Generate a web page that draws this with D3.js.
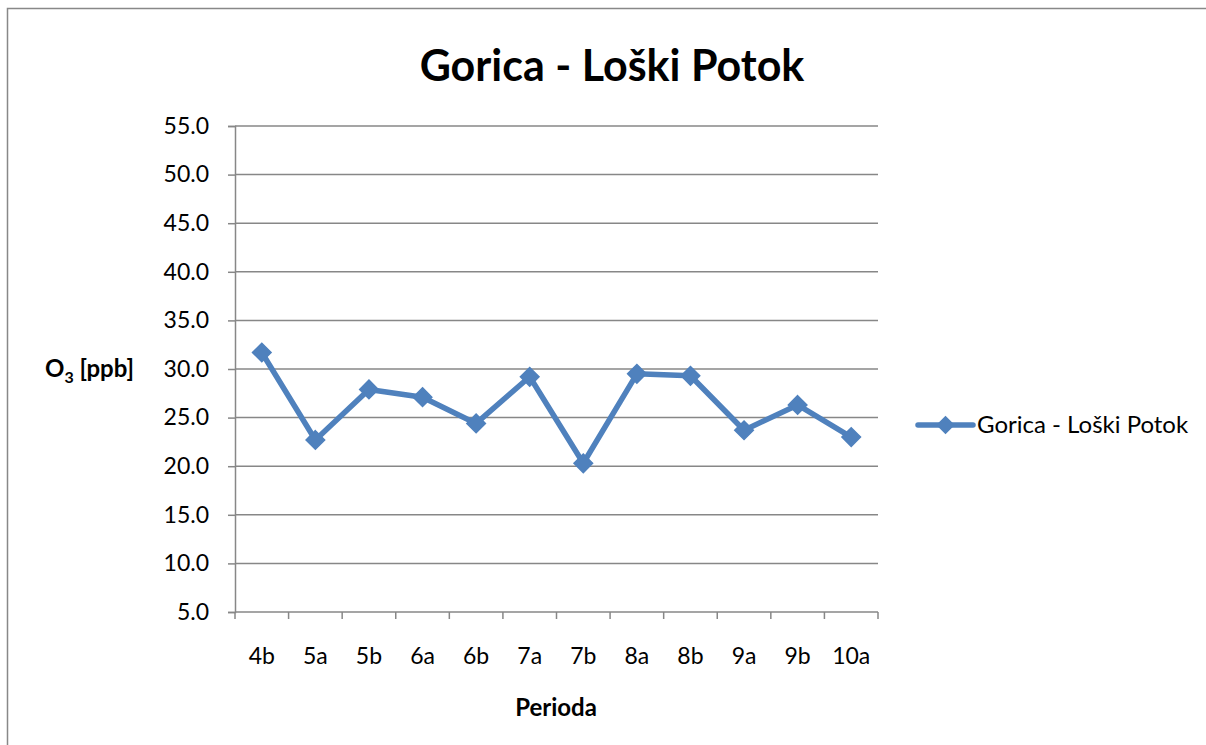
<!DOCTYPE html>
<html>
<head>
<meta charset="utf-8">
<script src="https://cdn.jsdelivr.net/npm/d3@7"></script>
<style>
  html, body { margin: 0; padding: 0; background: #fff; }
  svg { display: block; font-family: Lato, "Open Sans", sans-serif; }
</style>
</head>
<body>
<svg id="chart" width="1206" height="745"></svg>
<script>
// Ozone measurements per period
const categories = ["4b", "5a", "5b", "6a", "6b", "7a", "7b", "8a", "8b", "9a", "9b", "10a"];
const values = [31.7, 22.7, 27.9, 27.1, 24.4, 29.2, 20.3, 29.5, 29.3, 23.7, 26.3, 23.0];
const yTicks = [5, 10, 15, 20, 25, 30, 35, 40, 45, 50, 55];
const seriesName = "Gorica - Loški Potok";

const svg = d3.select("#chart");
const lineColor = "#4F81BD";
const gridColor = "#878787";

const plot = { left: 235, right: 878, top: 126, bottom: 612 };

// outer chart frame
svg.append("rect")
  .attr("x", 7.5).attr("y", 8.5)
  .attr("width", 1210).attr("height", 750)
  .attr("fill", "none").attr("stroke", "#888").attr("stroke-width", 1.5);

const x = d3.scaleBand().domain(categories).range([plot.left, plot.right]).padding(0);
const y = d3.scaleLinear().domain([5, 55]).range([plot.bottom, plot.top]);

// horizontal gridlines
svg.append("g")
  .selectAll("line")
  .data(yTicks.filter(t => t > 5))
  .join("line")
  .attr("x1", plot.left).attr("x2", plot.right)
  .attr("y1", d => y(d)).attr("y2", d => y(d))
  .attr("stroke", gridColor).attr("stroke-width", 1.5);

// y axis
const yAxis = svg.append("g")
  .attr("transform", `translate(${plot.left},0)`)
  .call(d3.axisLeft(y).tickValues(yTicks).tickFormat(d3.format(".1f")).tickSize(7).tickPadding(19));
yAxis.select(".domain").attr("stroke", gridColor).attr("stroke-width", 1.5);
yAxis.selectAll(".tick line").attr("stroke", gridColor).attr("stroke-width", 1.5);
yAxis.selectAll(".tick text").attr("fill", "#000").style("font-size", "23px").style("font-family", "Lato, sans-serif");

// x axis with ticks on category boundaries
const xAxisG = svg.append("g").attr("transform", `translate(0,${plot.bottom})`);
xAxisG.append("line")
  .attr("x1", plot.left).attr("x2", plot.right)
  .attr("y1", 0).attr("y2", 0)
  .attr("stroke", gridColor).attr("stroke-width", 1.5);
const boundaries = categories.map(c => x(c)).concat([plot.right]);
xAxisG.selectAll("line.tk")
  .data(boundaries)
  .join("line")
  .attr("class", "tk")
  .attr("x1", d => d).attr("x2", d => d)
  .attr("y1", 0).attr("y2", 7)
  .attr("stroke", gridColor).attr("stroke-width", 1.5);
xAxisG.selectAll("text")
  .data(categories)
  .join("text")
  .attr("x", d => x(d) + x.bandwidth() / 2)
  .attr("y", 52)
  .attr("text-anchor", "middle")
  .style("font-size", "23px")
  .text(d => d);

// series line
const pts = categories.map((c, i) => [x(c) + x.bandwidth() / 2, y(values[i])]);
svg.append("path")
  .attr("d", d3.line()(pts))
  .attr("fill", "none")
  .attr("stroke", lineColor)
  .attr("stroke-width", 5.5)
  .attr("stroke-linejoin", "round");

// diamond markers
const diamond = d3.symbol().type(d3.symbolDiamond2).size(220);
svg.append("g")
  .selectAll("path")
  .data(pts)
  .join("path")
  .attr("transform", d => `translate(${d[0]},${d[1]})`)
  .attr("d", diamond)
  .attr("fill", lineColor)
  .attr("stroke", lineColor)
  .attr("stroke-width", 1.5);

// title
svg.append("text")
  .attr("x", 612).attr("y", 81)
  .attr("text-anchor", "middle")
  .style("font-size", "43px").style("font-weight", "bold")
  .text(seriesName);

// y axis title with subscript
const yt = svg.append("text")
  .attr("x", 45).attr("y", 377)
  .style("font-size", "24px").style("font-weight", "bold");
yt.append("tspan").text("O");
yt.append("tspan").attr("dy", 6).style("font-size", "16px").text("3");
yt.append("tspan").attr("dy", -6).text(" [ppb]");

// x axis title
svg.append("text")
  .attr("x", 556).attr("y", 716)
  .attr("text-anchor", "middle")
  .style("font-size", "24px").style("font-weight", "bold")
  .text("Perioda");

// legend
const lg = svg.append("g").attr("transform", "translate(918,425)");
lg.append("line")
  .attr("x1", 0).attr("x2", 55).attr("y1", 0).attr("y2", 0)
  .attr("stroke", lineColor).attr("stroke-width", 5.5).attr("stroke-linecap", "round");
lg.append("path")
  .attr("transform", "translate(27.5,0)")
  .attr("d", diamond)
  .attr("fill", lineColor);
lg.append("text")
  .attr("x", 59).attr("y", 8)
  .style("font-size", "24px")
  .text(seriesName);
</script>
</body>
</html>
